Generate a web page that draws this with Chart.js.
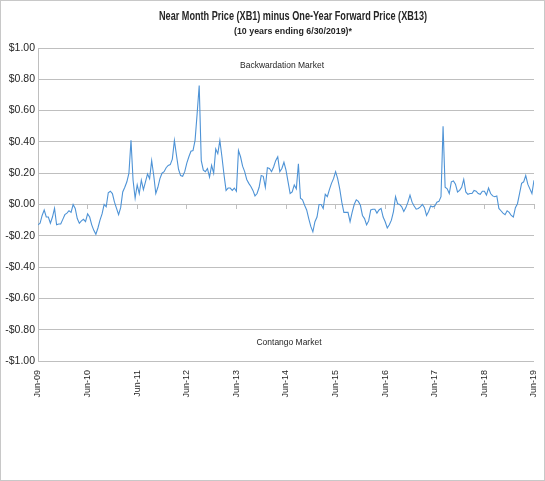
<!DOCTYPE html>
<html>
<head>
<meta charset="utf-8">
<script src="https://cdn.jsdelivr.net/npm/chart.js@4/dist/chart.umd.min.js"></script>
<style>
  html, body { margin: 0; padding: 0; background: #fff; }
  #wrap { width: 545px; height: 481px; position: relative; }
</style>
</head>
<body>
<div id="wrap"><canvas id="spreadChart"></canvas></div>
<script>
/* Near month (XB1) minus one-year forward (XB13) */

const tickLabels = ['Jun-09', 'Jun-10', 'Jun-11', 'Jun-12', 'Jun-13', 'Jun-14',
    'Jun-15', 'Jun-16', 'Jun-17', 'Jun-18', 'Jun-19'];

// months after Jun-09 of each reading (half-month steps)
const obsStep = 0.5;

// spread in $/gal, one value per half month, Jun-09 .. Jun-19
const spreadValues = [
    // Jun-09 .. Apr-11
    -0.13, -0.12, -0.07, -0.035, -0.08, -0.08, -0.12, -0.08, -0.025, -0.13,
    -0.125, -0.125, -0.095, -0.065, -0.055, -0.04, -0.05, 0.0, -0.025, -0.09,
    -0.12, -0.105, -0.095, -0.11, -0.06, -0.08, -0.13, -0.165, -0.19, -0.15,
    -0.10, -0.06, 0.0, -0.015, 0.075, 0.085, 0.07, 0.015, -0.025, -0.065,
    -0.02,
    // .. Oct-12
    0.08, 0.11, 0.145, 0.20, 0.41, 0.155, 0.04, 0.125, 0.07, 0.155,
    0.095, 0.145, 0.195, 0.165, 0.28, 0.185, 0.07, 0.11, 0.165, 0.20,
    0.21, 0.235, 0.25, 0.255, 0.29, 0.41, 0.315, 0.225, 0.185, 0.18,
    0.21, 0.265, 0.305, 0.34, 0.345, 0.41, 0.58, 0.76, 0.28, 0.22,
    0.21,
    // .. Jul-14
    0.23, 0.175, 0.25, 0.20, 0.355, 0.325, 0.41, 0.305, 0.19, 0.09,
    0.105, 0.105, 0.09, 0.105, 0.085, 0.345, 0.305, 0.245, 0.21, 0.16,
    0.135, 0.115, 0.09, 0.055, 0.07, 0.11, 0.185, 0.18, 0.11, 0.235,
    0.23, 0.21, 0.24, 0.28, 0.305, 0.21, 0.23, 0.27, 0.22, 0.145,
    0.07,
    // .. Mar-16
    0.08, 0.125, 0.10, 0.26, 0.04, 0.03, -0.005, -0.035, -0.09, -0.14,
    -0.175, -0.11, -0.08, 0.0, 0.0, -0.025, 0.065, 0.05, 0.095, 0.135,
    0.165, 0.21, 0.165, 0.10, 0.015, -0.05, -0.05, -0.05, -0.11, -0.05,
    0.0, 0.03, 0.02, -0.005, -0.07, -0.09, -0.13, -0.105, -0.035, -0.03,
    // .. Oct-17
    -0.03, -0.055, -0.035, -0.025, -0.08, -0.11, -0.15, -0.13, -0.10, -0.045,
    0.05, 0.005, 0.0, -0.015, -0.045, -0.02, 0.015, 0.06, 0.015, -0.01,
    -0.03, -0.025, -0.015, 0.0, -0.02, -0.07, -0.045, -0.01, -0.015, -0.01,
    0.015, 0.02, 0.05, 0.50, 0.11, 0.10, 0.07, 0.145, 0.15,
    // .. Jun-19
    0.13, 0.08, 0.09, 0.11, 0.16, 0.08, 0.065, 0.07, 0.07, 0.09,
    0.085, 0.07, 0.065, 0.085, 0.085, 0.06, 0.105, 0.07, 0.055, 0.05,
    0.055, -0.025, -0.04, -0.055, -0.065, -0.04, -0.05, -0.07, -0.08, -0.02,
    0.005, 0.07, 0.135, 0.145, 0.185, 0.13, 0.10, 0.07, 0.155
];

const titleText = 'Near Month Price (XB1) minus One-Year Forward Price (XB13)';
const subtitleText = '(10 years ending 6/30/2019)*';
const upperNote = 'Backwardation Market';
const lowerNote = 'Contango Market';

const COLORS = {
    line: '#4e93d6',
    grid: '#bfbfbf',
    text: '#262626',
    frame: '#c8c8c8'
};

const money = (v) => {
    const s = '$' + Math.abs(v).toFixed(2);
    return v < -0.0001 ? '-' + s : s;
};

/**
 * Titles, the two market notes and the outer frame
 */
const chartText = {
    id: 'chartText',
    afterDraw(chart) {
        const { ctx } = chart;
        ctx.save();
        ctx.strokeStyle = COLORS.frame;
        ctx.lineWidth = 1;
        ctx.strokeRect(0.5, 0.5, chart.width - 1, chart.height - 1);

        ctx.fillStyle = COLORS.text;
        ctx.textAlign = 'center';
        ctx.textBaseline = 'middle';
        ctx.font = 'bold 12px "Liberation Sans", Arial, sans-serif';
        ctx.fillText(titleText, 293, 17, 268);
        ctx.font = 'bold 9.5px "Liberation Sans", Arial, sans-serif';
        ctx.fillText(subtitleText, 293, 31, 118);

        ctx.font = '9px "Liberation Sans", Arial, sans-serif';
        ctx.fillText(upperNote, 282, 66, 84);
        ctx.fillText(lowerNote, 289, 343, 65);
        ctx.restore();
    }
};

const createSpreadChart = () => {
    const ctx = document.getElementById('spreadChart').getContext('2d');
    const points = spreadValues.map((v, i) => ({ x: i * obsStep, y: v }));

    return new Chart(ctx, {
        type: 'line',
        data: {
            datasets: [{
                label: 'XB1 - XB13',
                data: points,
                borderColor: COLORS.line,
                borderWidth: 1.1,
                pointRadius: 0,
                tension: 0,
                fill: false
            }]
        },
        options: {
            responsive: true,
            maintainAspectRatio: false,
            animation: false,
            layout: { padding: { top: 48, right: 11, left: 0, bottom: 0 } },
            scales: {
                x: {
                    type: 'linear',
                    min: 0,
                    max: 120,
                    afterFit: (s) => {
                        s.height = 120;
                        s.paddingLeft = 0;
                        s.paddingRight = 0;
                    },
                    grid: { display: false },
                    border: { display: false },
                    ticks: {
                        stepSize: 12,
                        autoSkip: false,
                        minRotation: 90,
                        maxRotation: 90,
                        padding: 1,
                        color: COLORS.text,
                        font: { family: '"Liberation Sans", Arial, sans-serif', size: 9 },
                        callback: (v) => tickLabels[Math.round(v / 12)]
                    }
                },
                x2: {
                    type: 'linear',
                    axis: 'x',
                    position: { y: 0 },
                    min: 0,
                    max: 120,
                    grid: { drawOnChartArea: false, drawTicks: true, tickLength: 4, color: COLORS.grid },
                    border: { color: COLORS.grid },
                    ticks: { display: false, stepSize: 12 }
                },
                y: {
                    min: -1,
                    max: 1,
                    afterFit: (s) => { s.width = 38; },
                    grid: { color: COLORS.grid, drawTicks: false },
                    border: { color: COLORS.grid },
                    ticks: {
                        stepSize: 0.2,
                        padding: 3,
                        color: COLORS.text,
                        font: { family: '"Liberation Sans", Arial, sans-serif', size: 10.5 },
                        callback: (v) => money(v)
                    }
                }
            },
            plugins: {
                legend: { display: false },
                tooltip: { enabled: false }
            }
        },
        plugins: [chartText]
    });
};

createSpreadChart();
</script>
</body>
</html>
